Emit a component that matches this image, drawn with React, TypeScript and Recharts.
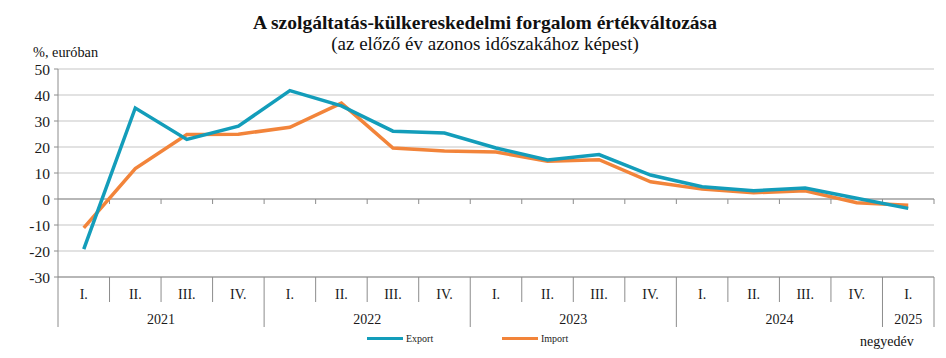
import React from 'react';
import { LineChart, Line, XAxis, YAxis, CartesianGrid, ReferenceLine } from 'recharts';

const quarters = ['I.', 'II.', 'III.', 'IV.', 'I.', 'II.', 'III.', 'IV.', 'I.', 'II.', 'III.', 'IV.', 'I.', 'II.', 'III.', 'IV.', 'I.'];
const years = ['2021', '2021', '2021', '2021', '2022', '2022', '2022', '2022', '2023', '2023', '2023', '2023', '2024', '2024', '2024', '2024', '2025'];
const exportValues = [-19.3, 35.0, 22.9, 28.0, 41.7, 35.8, 26.1, 25.4, 19.6, 15.0, 17.1, 9.2, 4.7, 3.2, 4.2, 0.3, -3.6];
const importValues = [-11.1, 11.7, 24.8, 24.9, 27.6, 36.9, 19.6, 18.5, 18.1, 14.5, 15.1, 6.6, 3.8, 2.4, 3.2, -1.4, -2.4];
const yTicks = [-30, -20, -10, 0, 10, 20, 30, 40, 50];

const W = 946;
const H = 358;
const M = { top: 69, right: 12, left: 0, bottom: 31 };
const Y_AXIS_W = 58;
const X_AXIS_H = 50;
const PLOT_W = W - M.left - M.right - Y_AXIS_W;
const BAND = PLOT_W / quarters.length;

const EXPORT_COLOR = '#139DBA';
const IMPORT_COLOR = '#F2843A';
const AXIS_COLOR = '#8C8C8C';
const FONT = '"Liberation Serif", "Times New Roman", serif';

const data = quarters.map((q, i) => ({
    key: String(i),
    Export: exportValues[i],
    Import: importValues[i],
}));

function QuarterTick(props: any) {
    const { x, y, payload } = props;
    const i = Number(payload.value);
    const left = x - BAND / 2;
    const right = x + BAND / 2;
    const yearStart = i === 0 || years[i - 1] !== years[i];
    const yearEnd = i === quarters.length - 1 || years[i + 1] !== years[i];
    const n = years.filter((yr) => yr === years[i]).length;
    return (
        <g>
            <text x={x} y={y + 22} textAnchor="middle" fontSize={14} fontFamily={FONT} fill="#1a1a1a">
                {quarters[i]}
            </text>
            {i === 0 && <line x1={left} x2={left} y1={y} y2={y + 50} stroke={AXIS_COLOR} />}
            <line x1={right} x2={right} y1={y} y2={y + (yearEnd ? 50 : 25)} stroke={AXIS_COLOR} />
            {yearStart && (
                <text x={left + (n * BAND) / 2} y={y + 47} textAnchor="middle" fontSize={14} fontFamily={FONT} fill="#1a1a1a">
                    {years[i]}
                </text>
            )}
        </g>
    );
}

// zero line with the small category tick marks hanging below it
function ZeroAxis(props: any) {
    const { x1, x2, y1 } = props;
    const bw = (x2 - x1) / quarters.length;
    return (
        <g>
            <line x1={x1} x2={x2} y1={y1} y2={y1} stroke={AXIS_COLOR} strokeWidth={1} />
            {quarters.map((_, i) => (
                <line key={i} x1={x1 + bw * (i + 1)} x2={x1 + bw * (i + 1)} y1={y1} y2={y1 + 5} stroke={AXIS_COLOR} />
            ))}
        </g>
    );
}

function LegendItem({ color, label, left }: { color: string; label: string; left: number }) {
    return (
        <div style={{ position: 'absolute', left, top: 333, display: 'flex', alignItems: 'center' }}>
            <div style={{ width: 36, height: 3.5, background: color }} />
            <span style={{ fontSize: 10, marginLeft: 3, fontFamily: FONT, color: '#222' }}>{label}</span>
        </div>
    );
}

export default function App() {
    return (
        <div style={{ position: 'absolute', left: 0, top: 0, width: W, height: H, background: '#fff', fontFamily: FONT }}>
            <div style={{ position: 'absolute', left: 12, top: 13, width: W, textAlign: 'center', fontSize: 19.5, lineHeight: '19.5px', fontWeight: 'bold', color: '#111' }}>
                A szolgáltatás-külkereskedelmi forgalom értékváltozása
            </div>
            <div style={{ position: 'absolute', left: 12, top: 34, width: W, textAlign: 'center', fontSize: 19, lineHeight: '19px', color: '#111' }}>
                (az előző év azonos időszakához képest)
            </div>
            <div style={{ position: 'absolute', left: 33, top: 45, fontSize: 14.3, lineHeight: '14px', color: '#111' }}>%, euróban</div>
            <div style={{ position: 'absolute', left: 860, top: 335, fontSize: 14, lineHeight: '14px', color: '#111' }}>negyedév</div>

            <LineChart width={W} height={H} data={data} margin={M}>
                <CartesianGrid vertical={false} stroke="#D9D9D9" strokeWidth={1.3} />
                <XAxis
                    dataKey="key"
                    interval={0}
                    height={X_AXIS_H}
                    padding={{ left: BAND / 2, right: BAND / 2 }}
                    tickSize={0}
                    tickMargin={0}
                    tickLine={false}
                    axisLine={{ stroke: AXIS_COLOR }}
                    tick={<QuarterTick />}
                />
                <YAxis
                    domain={[-30, 50]}
                    ticks={yTicks}
                    width={Y_AXIS_W}
                    interval={0}
                    tickSize={4}
                    tickMargin={4}
                    tickLine={{ stroke: AXIS_COLOR }}
                    axisLine={{ stroke: AXIS_COLOR }}
                    tick={{ fontSize: 15.5, fontFamily: FONT, fill: '#1a1a1a' }}
                />
                <YAxis
                    yAxisId="right"
                    orientation="right"
                    domain={[-30, 50]}
                    width={0}
                    tick={false}
                    tickLine={false}
                    axisLine={{ stroke: '#A6A6A6' }}
                />
                <ReferenceLine y={0} shape={<ZeroAxis />} />
                <Line type="linear" dataKey="Import" stroke={IMPORT_COLOR} strokeWidth={3.5} dot={false} isAnimationActive={false} />
                <Line type="linear" dataKey="Export" stroke={EXPORT_COLOR} strokeWidth={3.5} dot={false} isAnimationActive={false} />
            </LineChart>

            <LegendItem color={EXPORT_COLOR} label="Export" left={367} />
            <LegendItem color={IMPORT_COLOR} label="Import" left={502} />
        </div>
    );
}
